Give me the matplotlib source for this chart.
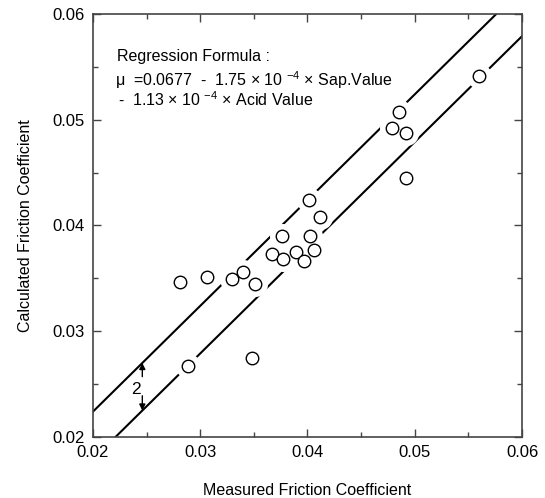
import numpy as np
import matplotlib
matplotlib.use('Agg')
import matplotlib.pyplot as plt
from matplotlib.ticker import MultipleLocator, FormatStrFormatter

plt.rcParams['font.family'] = ['Liberation Sans', 'DejaVu Sans']
plt.rcParams['mathtext.fontset'] = 'custom'
plt.rcParams['mathtext.rm'] = 'Liberation Sans'
plt.rcParams['mathtext.it'] = 'Liberation Sans:italic'

# measured vs calculated friction coefficient
measured = [0.0281, 0.0306, 0.0330, 0.0340, 0.0351, 0.0348, 0.0289,
            0.0367, 0.0376, 0.0377, 0.0389, 0.0397, 0.0402, 0.0406,
            0.0401, 0.0412, 0.0479, 0.0485, 0.0492, 0.0492, 0.0560]
calculated = [0.0347, 0.0351, 0.0349, 0.0356, 0.0345, 0.0275, 0.0267,
              0.0373, 0.0390, 0.0368, 0.0375, 0.0366, 0.0390, 0.0377,
              0.0424, 0.0408, 0.0492, 0.0507, 0.0487, 0.0445, 0.0541]

# upper / lower band lines: y = x + offset
band_offsets = [0.0024, -0.0021]
arrow_x = 0.0246

fig = plt.figure(figsize=(5.45, 4.98), dpi=100)
ax = fig.add_axes([0.1706, 0.1225, 0.7872, 0.8494])

xs = np.array([0.0, 0.1])
for off in band_offsets:
    ax.plot(xs, xs + off, color='black', lw=1.5, zorder=2)

# white halo breaks the lines around the markers
ax.plot(measured, calculated, 'o', ms=18, color='white', mec='none', zorder=3)
ax.plot(measured, calculated, 'o', ms=9, mfc='white', mec='black', mew=1.0, zorder=4)

# band width arrows
ax.annotate('', xy=(arrow_x, arrow_x + band_offsets[0]), xytext=(arrow_x, 0.0257),
            arrowprops=dict(arrowstyle='-|>', color='black', lw=1, mutation_scale=9,
                            shrinkA=0, shrinkB=0))
ax.annotate('', xy=(arrow_x, arrow_x + band_offsets[1]), xytext=(arrow_x, 0.0239),
            arrowprops=dict(arrowstyle='-|>', color='black', lw=1, mutation_scale=9,
                            shrinkA=0, shrinkB=0))
ax.text(0.0240, 0.0245, '2', fontsize=12.5, ha='center', va='center')

ax.text(0.056, 0.888, 'Regression Formula :', transform=ax.transAxes, fontsize=11.5)
ax.text(0.052, 0.830, r'μ  =0.0677  -  1.75 × 10 $^{-4}$ × Sap.Value',
        transform=ax.transAxes, fontsize=11.5)
ax.text(0.058, 0.782, r'-  1.13 × 10 $^{-4}$ × Acid Value',
        transform=ax.transAxes, fontsize=11.5)

ax.set_xlim(0.02, 0.06)
ax.set_ylim(0.02, 0.06)
ax.xaxis.set_major_locator(MultipleLocator(0.01))
ax.yaxis.set_major_locator(MultipleLocator(0.01))
ax.xaxis.set_minor_locator(MultipleLocator(0.005))
ax.yaxis.set_minor_locator(MultipleLocator(0.005))
ax.xaxis.set_major_formatter(FormatStrFormatter('%.2f'))
ax.yaxis.set_major_formatter(FormatStrFormatter('%.2f'))
ax.tick_params(which='both', direction='in', top=True, right=True,
               color='#444444', width=1.0, labelsize=12)
ax.tick_params(which='major', length=6, pad=6)
ax.tick_params(which='minor', length=3.5)
for s in ax.spines.values():
    s.set_color('#444444')
    s.set_linewidth(1.2)

ax.set_xlabel('Measured Friction Coefficient', fontsize=11.5, labelpad=16)
ax.set_ylabel('Calculated Friction Coefficient', fontsize=11.5, labelpad=14)

fig.savefig('out.png', dpi=100)
